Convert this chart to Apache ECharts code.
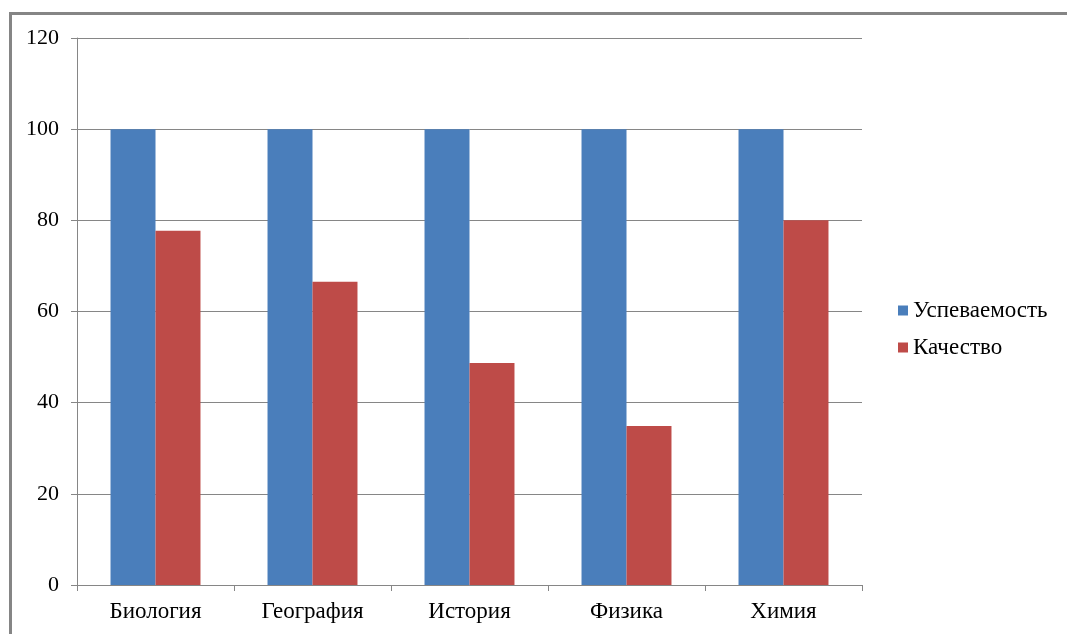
<!DOCTYPE html>
<html>
<head>
<meta charset="utf-8">
<script src="https://cdn.jsdelivr.net/npm/echarts@6/dist/echarts.min.js"></script>
<style>
    html, body { margin:0; padding:0; background:#fff; overflow:hidden; }
    #frame { position:absolute; left:9px; top:12px; width:2000px; height:2000px; border-top:3px solid #858585; border-left:3px solid #858585; }
    #chart { position:absolute; left:0; top:0; width:1067px; height:634px; }
</style>
</head>
<body>
<div id="frame"></div>
<div id="chart"></div>
<script>
const subjects = ['Биология','География','История','Физика','Химия'];
const progress = [100, 100, 100, 100, 100];
const quality = [77.7, 66.5, 48.7, 34.9, 80];
const colors = ['#4a7ebb','#be4b48'];
const font = 'Liberation Serif';

let myChart = echarts.init(document.getElementById('chart'));
let option = {
    color:colors,
    animation:false,
    textStyle:{ fontFamily:font },
    legend:{
        orient:'vertical',
        left:893,
        top:294,
        icon:'rect',
        itemWidth:10,
        itemHeight:10,
        itemGap:14,
        textStyle:{ fontFamily:font, fontSize:23, color:'#000' },
        data:['Успеваемость','Качество']
    },
    grid:{
        left:77,
        right:205,
        top:38,
        bottom:49,
        containLabel:false
    },
    xAxis:{
        type:'category',
        data:subjects,
        axisLine:{ lineStyle:{ color:'#868686', width:1 } },
        axisTick:{ show:true, length:6, lineStyle:{ color:'#868686' } },
        axisLabel:{ fontFamily:font, fontSize:23, color:'#000', margin:15 }
    },
    yAxis:{
        type:'value',
        min:0,
        max:120,
        interval:20,
        axisLine:{ show:true, lineStyle:{ color:'#868686', width:1 } },
        axisTick:{ show:true, length:6, lineStyle:{ color:'#868686' } },
        axisLabel:{ fontFamily:font, fontSize:22, color:'#000', margin:18 },
        splitLine:{ show:true, lineStyle:{ color:'#868686', width:1 } }
    },
    series:[
        {
            type:'bar',
            name:'Успеваемость',
            data:progress,
            barGap:'0%',
            barCategoryGap:'42.7%'
        },
        {
            type:'bar',
            name:'Качество',
            data:quality,
            barGap:'0%',
            barCategoryGap:'42.7%'
        }
    ]
};
myChart.setOption(option);
</script>
</body>
</html>
